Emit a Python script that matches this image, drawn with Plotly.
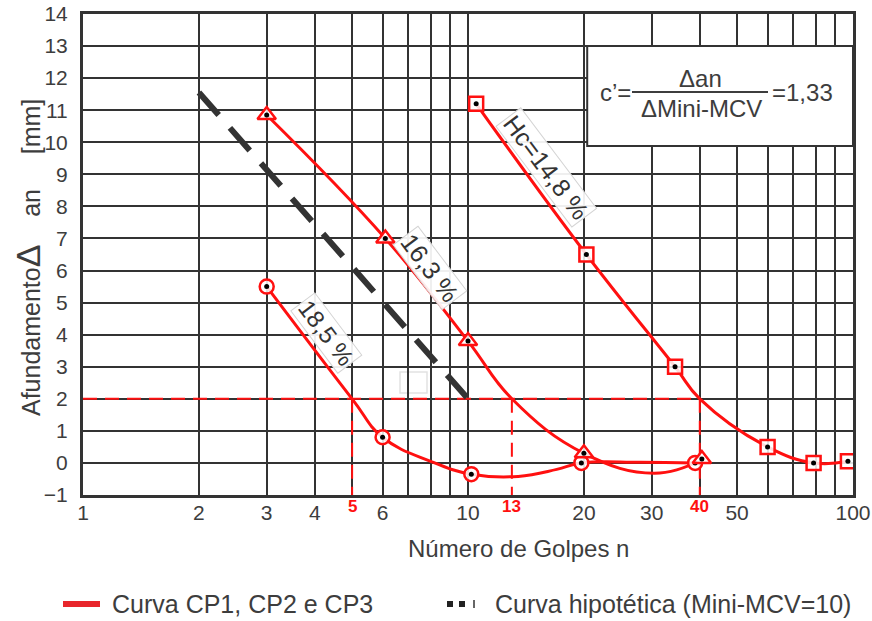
import numpy as np
import plotly.graph_objects as go

# ---- data -------------------------------------------------------------
# measured points (number of blows n, penetration Δan in mm)
cp_185_n = [3, 6, 10.2, 19.7, 38.9]
cp_185_a = [5.5, 0.8, -0.35, 0.0, 0.0]
cp_163_n = [3, 6.1, 10, 20, 40.5]
cp_163_a = [10.85, 7.0, 3.8, 0.3, 0.12]
cp_148_n = [10.5, 20.3, 34.5, 60, 79, 97]
cp_148_a = [11.2, 6.5, 3.0, 0.5, 0.0, 0.05]

# fitted curves drawn through the measured points
fit_185_n = [3, 5, 6, 8, 10.2, 13.5, 17, 19.7, 28, 38.9]
fit_185_a = [5.5, 2.0, 0.8, 0.05, -0.35, -0.42, -0.2, 0.0, 0.02, 0.0]
fit_163_n = [3, 6.1, 10, 13, 20, 30.5, 40.5]
fit_163_a = [10.85, 7.0, 3.8, 2.0, 0.3, -0.32, 0.1]
fit_148_n = [10.5, 20.3, 34.5, 40, 60, 79, 97]
fit_148_a = [11.2, 6.5, 3.0, 2.0, 0.5, 0.0, 0.05]

# hypothetical curve (Mini-MCV = 10)
hyp_n = [2, 10]
hyp_a = [11.55, 2.0]

# reference penetration of 2 mm and the blow counts where it is reached
ref_a = 2
ref_n = [5, 13, 40]

curve_labels = ["18,5 %", "16,3 %", "Hc=14,8 %"]
label_pos_n = [4.30, 7.97, 15.95]
label_pos_a = [4.05, 6.08, 9.23]
label_sizes = [24, 25, 25]

y_ticks = list(range(-1, 15))
x_grid = [1, 2, 3, 4, 5, 6, 7, 8, 9, 10, 20, 30, 40, 50, 60, 70, 80, 90, 100]
x_tick_text = ["1", "2", "3", "4", "", "6", "", "", "", "10",
               "20", "30", "", "50", "", "", "", "", "100"]

legend_items = ["Curva CP1, CP2 e CP3", "Curva hipotética (Mini-MCV=10)"]

# ---- styling ----------------------------------------------------------
RED = "#ff1010"
INK = "#333333"
TXT = "#3d3d3d"
FONT = "Liberation Sans, Arial, sans-serif"

W, H = 872, 621
L, R, T, B = 83, 853, 14, 495


def px(x):
    return (x - L) / (R - L)


def py(y):
    return (B - y) / (B - T)


def note(x, y, text, size, color=TXT, **kw):
    d = dict(x=px(x), y=py(y), xref="paper", yref="paper", text=text,
             showarrow=False, xanchor="center", yanchor="middle",
             font=dict(family=FONT, size=size, color=color))
    d.update(kw)
    return d


fig = go.Figure()

# 2 mm reference lines
fig.add_trace(go.Scatter(
    x=[1, ref_n[-1]], y=[ref_a, ref_a], mode="lines",
    line=dict(color=RED, width=2, dash="14px,8px"), hoverinfo="skip"))
for n in ref_n:
    fig.add_trace(go.Scatter(
        x=[n, n], y=[ref_a, -1], mode="lines",
        line=dict(color=RED, width=2, dash="14px,8px"), hoverinfo="skip"))

# hypothetical curve
fig.add_trace(go.Scatter(
    x=hyp_n, y=hyp_a, mode="lines",
    line=dict(color=INK, width=6, dash="30px,17px"), hoverinfo="skip"))

# fitted curves
for fx, fy in [(fit_185_n, fit_185_a), (fit_163_n, fit_163_a), (fit_148_n, fit_148_a)]:
    fig.add_trace(go.Scatter(
        x=fx, y=fy, mode="lines",
        line=dict(color=RED, width=3, shape="spline", smoothing=1.2),
        hoverinfo="skip"))

# measured points: red outline with a black centre dot
for mx, my, sym, size in [(cp_185_n, cp_185_a, "circle", 14),
                          (cp_163_n, cp_163_a, "triangle-up", 16),
                          (cp_148_n, cp_148_a, "square", 14)]:
    fig.add_trace(go.Scatter(
        x=mx, y=my, mode="markers",
        marker=dict(symbol=sym, size=size, color="rgba(255,255,255,0.85)",
                    line=dict(color=RED, width=2.5))))
    fig.add_trace(go.Scatter(
        x=mx, y=my, mode="markers",
        marker=dict(symbol="circle", size=5, color="black")))

annotations = []

# curve labels along the lines
for text, n, a, s in zip(curve_labels, label_pos_n, label_pos_a, label_sizes):
    annotations.append(dict(
        x=np.log10(n), y=a, xref="x", yref="y", text=text, showarrow=False,
        xanchor="center", yanchor="middle",
        textangle=53, font=dict(family=FONT, size=s, color=INK),
        bgcolor="rgba(255,255,255,0.92)", bordercolor="#d4d4d4", borderwidth=1,
        borderpad=1))

# blow counts at 2 mm, in red under the axis
for n in ref_n:
    annotations.append(dict(
        x=np.log10(n), y=py(506), xref="x", yref="paper", text=f"<b>{n}</b>",
        showarrow=False, xanchor="center", yanchor="middle",
        font=dict(family=FONT, size=17, color=RED)))

# formula in the box
annotations += [
    note(615, 93, "c’=", 24),
    note(700, 79, "Δan", 24),
    note(701, 109, "ΔMini-MCV", 24),
    note(802, 93, "=1,33", 24),
]

# axis titles
annotations.append(note(518, 548, "Número de Golpes n", 24))
annotations.append(note(
    28, 258,
    "Afundamento<span style='font-size:34px'>Δ</span>\u00a0\u00a0\u00a0\u00a0an\u00a0\u00a0\u00a0\u00a0\u00a0[mm]",
    25, textangle=-90))

# legend texts
annotations.append(note(110, 604, legend_items[0], 25, xanchor="left"))
annotations.append(note(493, 604, legend_items[1], 25, xanchor="left"))

shapes = [
    # formula box
    dict(type="rect", xref="x", yref="y", x0=20.4, x1=100, y0=9.88, y1=13,
         fillcolor="white", line=dict(color=INK, width=2), layer="between"),
    dict(type="line", xref="paper", yref="paper", x0=px(632), x1=px(768),
         y0=py(92), y1=py(92), line=dict(color=TXT, width=2)),
    # small blank patch
    dict(type="rect", xref="paper", yref="paper", x0=px(400), x1=px(427),
         y0=py(393), y1=py(372), fillcolor="white",
         line=dict(color="#e2e2e2", width=1.5), layer="between"),
    # legend symbols
    dict(type="rect", xref="paper", yref="paper", x0=px(63), x1=px(100),
         y0=py(607), y1=py(601), fillcolor="#e8262b", line=dict(width=0)),
    dict(type="rect", xref="paper", yref="paper", x0=px(447), x1=px(453),
         y0=py(607), y1=py(601), fillcolor="#222", line=dict(width=0)),
    dict(type="rect", xref="paper", yref="paper", x0=px(459), x1=px(465),
         y0=py(607), y1=py(601), fillcolor="#222", line=dict(width=0)),
    dict(type="line", xref="paper", yref="paper", x0=px(474), x1=px(474),
         y0=py(608), y1=py(600), line=dict(color="#666", width=2)),
]

fig.update_layout(
    width=W, height=H, autosize=False,
    margin=dict(l=L, r=W - R, t=T, b=H - B, autoexpand=False),
    plot_bgcolor="white", paper_bgcolor="white",
    showlegend=False,
    annotations=annotations, shapes=shapes,
    font=dict(family=FONT, color=TXT),
)
fig.update_xaxes(
    type="log", range=[0, 2], tickmode="array", tickvals=x_grid,
    ticktext=x_tick_text, showgrid=True, gridcolor=INK, gridwidth=1.5,
    showline=True, linecolor=INK, linewidth=3, mirror=True, ticks="",
    automargin=False, ticklabelstandoff=-3,
    tickfont=dict(family=FONT, size=21, color=TXT), zeroline=False)
fig.update_yaxes(
    range=[-1, 14], tickmode="array", tickvals=y_ticks,
    showgrid=True, gridcolor=INK, gridwidth=1.5,
    showline=True, linecolor=INK, linewidth=3, mirror=True, ticks="",
    ticklabelstandoff=8, automargin=False,
    tickfont=dict(family=FONT, size=21, color=TXT), zeroline=False)

fig.write_html("out.html")
